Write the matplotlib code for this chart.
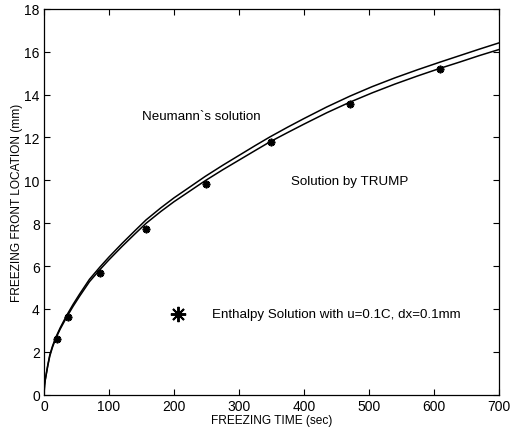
import matplotlib.pyplot as plt

plt.rcParams["font.family"] = ["Liberation Sans", "DejaVu Sans"]

# curves: time (sec) vs front location (mm)
t_curve = [0, 1, 2, 4, 6, 9, 13, 18, 25, 35, 45, 55, 70, 86, 100, 120,
           140, 157, 180, 200, 225, 248, 275, 300, 325, 348, 375, 400, 435,
           471, 505, 540, 575, 609, 640, 670, 700]
neumann = [0, 0.45, 0.7, 1.05, 1.4, 1.85, 2.25, 2.66, 3.12, 3.7, 4.22, 4.7,
           5.38, 5.95, 6.42, 7.05, 7.65, 8.15, 8.72, 9.18, 9.7, 10.18, 10.7,
           11.16, 11.62, 12.03, 12.48, 12.88, 13.42, 13.93, 14.37, 14.78,
           15.16, 15.51, 15.82, 16.12, 16.41]
trump = [0, 0.44, 0.68, 1.02, 1.36, 1.8, 2.2, 2.61, 3.06, 3.62, 4.13, 4.6,
         5.27, 5.83, 6.29, 6.91, 7.5, 7.99, 8.55, 9.0, 9.51, 9.98, 10.49,
         10.94, 11.39, 11.8, 12.23, 12.62, 13.15, 13.65, 14.08, 14.49,
         14.87, 15.22, 15.52, 15.82, 16.1]

# enthalpy solution points
t_enth = [20, 37, 86, 157, 249, 350, 471, 609]
s_enth = [2.6, 3.64, 5.66, 7.72, 9.83, 11.8, 13.56, 15.2]

x_ticks = [0, 100, 200, 300, 400, 500, 600, 700]
y_ticks = [0, 2, 4, 6, 8, 10, 12, 14, 16, 18]

fig = plt.figure(figsize=(5.17, 4.35), dpi=100)
ax = fig.add_axes([0.085, 0.0904, 0.88, 0.887])

ax.plot(t_curve, neumann, color="black", lw=1.1)
ax.plot(t_curve, trump, color="black", lw=1.1)
ax.plot(t_enth, s_enth, ls="none", marker=(8, 2, 0), ms=5.5, mew=1.3,
        color="black")

# legend-like annotation
ax.plot([207], [3.77], ls="none", marker=(8, 2, 0), ms=11, mew=1.4,
        color="black")
ax.text(258, 3.77, "Enthalpy Solution with u=0.1C, dx=0.1mm", fontsize=9.6,
        va="center", ha="left")
ax.text(151, 13.0, "Neumann`s solution", fontsize=9.6, va="center",
        ha="left")
ax.text(380, 9.97, "Solution by TRUMP", fontsize=9.6, va="center",
        ha="left")

ax.set_xlim(0, 700)
ax.set_ylim(0, 18)
ax.set_xticks(x_ticks)
ax.set_yticks(y_ticks)
ax.tick_params(direction="in", top=True, right=True, labelsize=10,
               length=4, width=0.8, pad=3)
for sp in ax.spines.values():
    sp.set_linewidth(0.9)

ax.set_xlabel("FREEZING TIME (sec)", fontsize=8.6, labelpad=1)
ax.set_ylabel("FREEZING FRONT LOCATION (mm)", fontsize=8.6, labelpad=1)

fig.savefig("out.png", dpi=100)
